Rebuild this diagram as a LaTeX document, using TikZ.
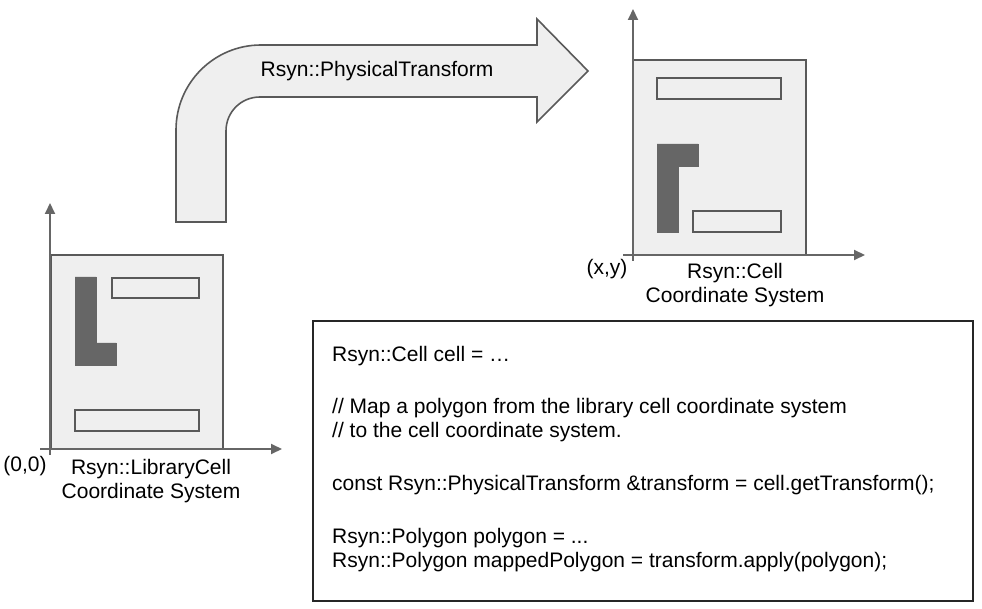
\documentclass[tikz,border=0pt]{standalone}
\usepackage{fontspec}
\setmainfont{Liberation Sans}
\usetikzlibrary{arrows.meta}
\definecolor{axisgray}{HTML}{666666}
\definecolor{edgegray}{HTML}{595959}
\definecolor{cellfill}{HTML}{EFEFEF}
\definecolor{pindark}{HTML}{666666}

\begin{document}
\begin{tikzpicture}[x=1pt,y=-1pt,
 font=\fontsize{21}{24}\selectfont,
 coordaxis/.style={-{Triangle[length=11pt,width=10pt]},draw=axisgray,line width=2pt},
 cellbox/.style={draw=edgegray,fill=cellfill,line width=1.6pt},
 wirebox/.style={draw=edgegray,fill=cellfill,line width=1.6pt},
 pinshape/.style={draw=pindark,fill=pindark,line width=0.8pt},
 axislabel/.style={inner sep=0pt,align=center},
 codeline/.style={anchor=base west,inner sep=0pt}]
\useasboundingbox (0,0) rectangle (982,609);

% library cell (left)
\coordinate (lyfoot) at (50,455); \coordinate (lytip) at (50,203);
\coordinate (lxfoot) at (40,449); \coordinate (lxtip) at (282,449);
\draw[cellbox] (51,255) rectangle (223,449);
\draw[wirebox] (112,278) rectangle (199,298);
\draw[wirebox] (75,410) rectangle (199,431);
\draw[pinshape] (75,277)--(96,277)--(96,343)--(116,343)--(116,365)--(75,365)--cycle;
\draw[coordaxis] (lyfoot)--(lytip);
\draw[coordaxis] (lxfoot)--(lxtip);
\node[axislabel,anchor=base] (lorig) at (25,471) {(0,0)};
\node[axislabel,anchor=north] (lname) at (151,459) {Rsyn::LibraryCell\\Coordinate System};

% cell (right)
\coordinate (ryfoot) at (633,261); \coordinate (rytip) at (633,9);
\coordinate (rxfoot) at (623,255); \coordinate (rxtip) at (865,255);
\draw[cellbox] (633,60) rectangle (806,255);
\draw[wirebox] (657,78) rectangle (781,99);
\draw[wirebox] (693,211) rectangle (781,232);
\draw[pinshape] (657,144)--(698,144)--(698,166)--(678,166)--(678,232)--(657,232)--cycle;
\draw[coordaxis] (ryfoot)--(rytip);
\draw[coordaxis] (rxfoot)--(rxtip);
\node[axislabel,anchor=base] (rorig) at (607,275) {(x,y)};
\node[axislabel,anchor=north] (rname) at (735,263) {Rsyn::Cell\\Coordinate System};

% bent transform arrow
\draw[wirebox] (176,222)--(176,130) .. controls (176,83) and (214,45) .. (261,45)
 --(537,45)--(537,19)--(588,71)--(537,122)--(537,97)--(260,97)
 .. controls (241,97) and (226,112) .. (226,131)--(226,222)--cycle;
\node[axislabel] (xform) at (377,71) {Rsyn::PhysicalTransform};

% code listing
\draw[draw=black!85,line width=1.5pt] (313,321) rectangle (973,601);
\foreach \yy/\txt [count=\n] in {361/{Rsyn::Cell cell = …},
 413/{// Map a polygon from the library cell coordinate system},
 437/{// to the cell coordinate system.},
 490/{const Rsyn::PhysicalTransform \&transform = cell.getTransform();},
 543/{Rsyn::Polygon polygon = ...},
 567/{Rsyn::Polygon mappedPolygon = transform.apply(polygon);}}
 \node[codeline] (code\n) at (332,\yy) {\txt};
\end{tikzpicture}
\end{document}
